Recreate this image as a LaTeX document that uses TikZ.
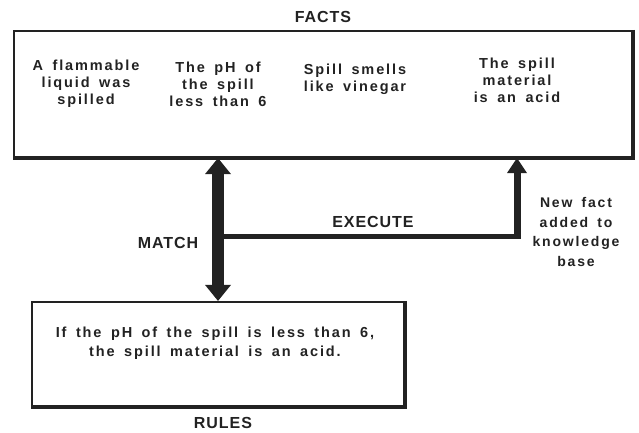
\documentclass[tikz,border=0pt]{standalone}
\usepackage{fontspec}
\usetikzlibrary{arrows.meta}
\newfontfamily\bodyf[LetterSpace=13,WordSpace=1.6]{Liberation Sans}
\newfontfamily\labelf[LetterSpace=6]{Liberation Sans}
\definecolor{ink}{HTML}{222222}
\tikzset{
  txt/.style={font=\bodyf\bfseries\fontsize{14.5}{17}\selectfont, align=center, inner sep=0pt, text=ink},
  rtxt/.style={font=\bodyf\bfseries\fontsize{14.5}{19.5}\selectfont, align=center, inner sep=0pt, text=ink},
  lbl/.style={font=\labelf\bfseries\fontsize{16}{19}\selectfont, inner sep=0pt, text=ink},
  boxf/.style={draw=ink, line width=2.2pt, inner sep=0pt},
  shadowedge/.style={draw=ink, line width=4.5pt},
}
\begin{document}
\begin{tikzpicture}[x=1pt,y=-1pt]
\useasboundingbox[fill=white] (0,0) rectangle (639,433);
% facts box
\node[boxf, minimum width=618pt, minimum height=126pt] (facts) at (323,94) {};
\draw[shadowedge] (facts.north east) -- (facts.south east) -- (facts.south west);
\node[lbl] (factslbl) at (323,17) {FACTS};
\node[txt] (f1) at (86,84) {A flammable\\liquid was\\spilled};
\node[txt] (f2) at (218,84) {The pH of\\the spill\\less than 6};
\node[txt] (f3) at (355,79) {Spill smells\\like vinegar};
\node[txt] (f4) at (517,80) {The spill\\material\\is an acid};
% rules box
\node[boxf, minimum width=372pt, minimum height=104pt] (rules) at (218,354) {};
\draw[shadowedge] (rules.north east) -- (rules.south east) -- (rules.south west);
\node[rtxt] (r1) at (215,343) {If the pH of the spill is less than 6,\\the spill material is an acid.};
\node[lbl] (ruleslbl) at (223,423) {RULES};
% match arrow
\draw[ink, line width=12pt, {Triangle[width=26pt,length=16pt,line width=0pt]}-{Triangle[width=26pt,length=16pt,line width=0pt]}]
  (rules.north |- facts.south) -- (rules.north);
\node[lbl] (match) at (168,243) {MATCH};
% execute
\coordinate (j) at (rules.north |- 0,236);
\coordinate (e) at (517,236);
\draw[ink, line width=5pt] (j) -- ([xshift=3.5pt]e);
\draw[ink, line width=7pt, -{Triangle[width=20pt,length=15pt,line width=0pt]}]
  ([yshift=-2.5pt]e) -- (e |- facts.south);
\node[lbl] (exec) at (373,222) {EXECUTE};
\node[font=\bodyf\bfseries\fontsize{14}{19.5}\selectfont, align=center, inner sep=0pt, text=ink] (newfact) at (576,232) {New fact\\added to\\knowledge\\base};
\end{tikzpicture}
\end{document}
